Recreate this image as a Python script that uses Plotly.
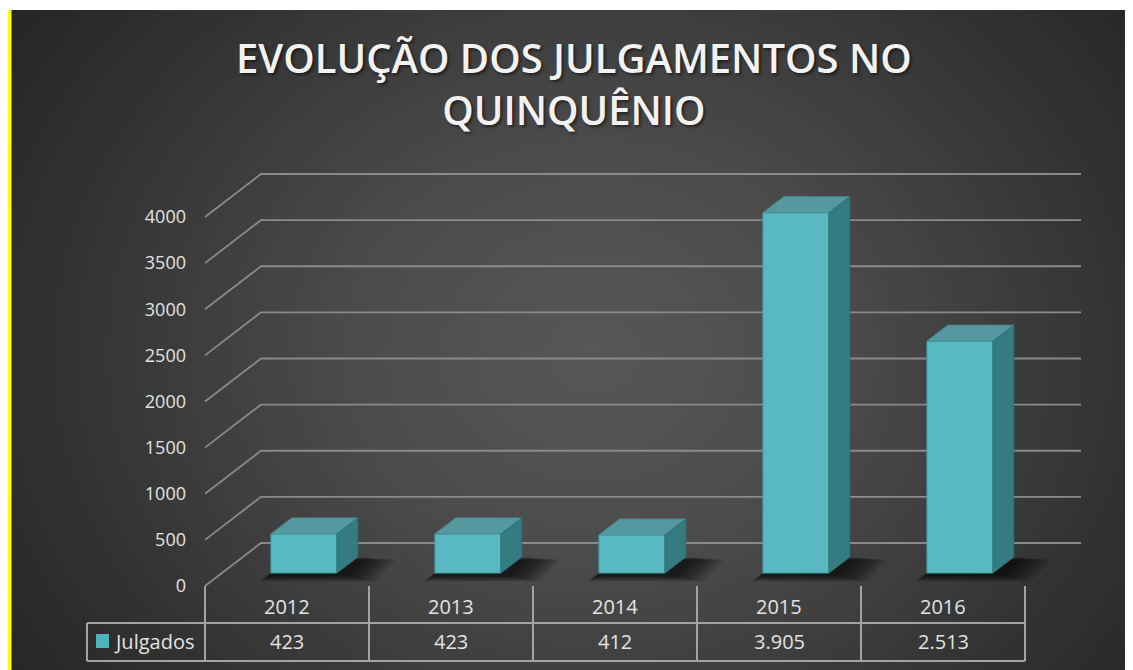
import base64
import plotly.graph_objects as go

# ---------------- data ----------------
CATEGORIES = ["2012", "2013", "2014", "2015", "2016"]
VALUES = [423, 423, 412, 3905, 2513]
SERIES_NAME = "Julgados"
TICKS = [0, 500, 1000, 1500, 2000, 2500, 3000, 3500, 4000]
TITLE = "EVOLUÇÃO DOS JULGAMENTOS NO<br>QUINQUÊNIO"

# ---------------- layout geometry (pixels, page coordinates) ----------------
PAGE_W, PAGE_H = 1133, 670
OFF = 8                                          # default body margin of the html page
W, H = PAGE_W - OFF, PAGE_H - OFF
PX_L, PX_R, PX_T, PX_B = 10, 1133, 10, 670      # plot area (page px)
X0_PX, COL_PX = 205, 164                         # left edge of floor, px per category
Y0_PX, UNIT_PX = 586, 369 / 4000                 # value 0 at front, px per unit

def px2x(px):
    return -0.5 + (px - X0_PX) / COL_PX

def py2y(py):
    return (Y0_PX - py) / UNIT_PX

def xp(px):
    return (px - PX_L) / (PX_R - PX_L)

def yp(py):
    return (PX_B - py) / (PX_B - PX_T)

# oblique depth (full depth of the floor) in data units
DX = 56 / COL_PX
DY = 43 / UNIT_PX
F0, FD = 13 / 43, 16 / 43          # bar front plane and bar depth (fractions)
BAR_W = 66 / COL_PX
BASE = F0 * DY
BX = F0 * DX
TX, TY = FD * DX, FD * DY

n = len(CATEGORIES)
XS = list(range(n))

GRID_C = "#8a8a8a"
TABLE_C = "#a3a3a3"
TEXT_C = "#e3e3e3"
FONT = "Open Sans"

fig = go.Figure()

# ---- background gradient image ----
gw, gh = PX_R - PX_L, PX_B - PX_T
svg = f'''<svg xmlns="http://www.w3.org/2000/svg" width="{gw}" height="{gh}">
<defs><radialGradient id="g" gradientUnits="userSpaceOnUse" cx="{gw*0.52}" cy="{gh*0.52}" r="{gw*0.62}"
 gradientTransform="translate({gw*0.52},{gh*0.52}) scale(1,0.85) translate({-gw*0.52},{-gh*0.52})">
<stop offset="0" stop-color="#575757"/><stop offset="0.35" stop-color="#4b4b4b"/>
<stop offset="0.75" stop-color="#333333"/><stop offset="1" stop-color="#262626"/></radialGradient></defs>
<rect width="{gw}" height="{gh}" fill="url(#g)"/></svg>'''
src = "data:image/svg+xml;base64," + base64.b64encode(svg.encode()).decode()

shapes = []

def path(xs, ys):
    return "M " + " L ".join(f"{a},{b}" for a, b in zip(xs, ys)) + " Z"

# ---- oblique gridlines (left wall diagonal + back wall) ----
xl, xr = -0.5, n - 0.5
for t in TICKS:
    shapes.append(dict(type="path", xref="x", yref="y", layer="below",
                       path=f"M {xl},{t} L {xl + DX},{t + DY} L {xr + DX},{t + DY}",
                       line=dict(color=GRID_C, width=1.8)))

# ---- soft shadows on the floor ----
LAYERS = 7
for j in range(LAYERS):
    k = 1.0 - j / LAYERS          # outer (large, faint) -> inner (small)
    for x, v in zip(XS, VALUES):
        x0 = x + BX - BAR_W / 2
        x1 = x0 + BAR_W
        sx = [x0 - 0.02 - 0.05 * k, x1 + 0.03 + 0.20 * k, x1 + TX + 0.03 + 0.20 * k, x0 + TX + 0.02]
        sy = [BASE - 20 - 70 * k, BASE - 20 - 70 * k, BASE + TY - 30 * k, BASE + TY - 30 * k]
        shapes.append(dict(type="path", xref="x", yref="y", layer="below", path=path(sx, sy),
                           fillcolor="rgba(0,0,0,0.13)", line=dict(width=0)))

# ---- bar front faces ----
fig.add_trace(go.Bar(x=XS, y=VALUES, base=BASE, width=BAR_W, offset=BX - BAR_W / 2,
                     marker=dict(color="#59b9c2", line=dict(color="#3f9da6", width=1)),
                     name=SERIES_NAME, showlegend=False, hoverinfo="skip"))

# ---- bar top and side faces ----
for x, v in zip(XS, VALUES):
    x0 = x + BX - BAR_W / 2
    x1 = x0 + BAR_W
    top = BASE + v
    fig.add_trace(go.Scatter(x=[x0, x1, x1 + TX, x0 + TX, x0], y=[top, top, top + TY, top + TY, top],
                             mode="lines", fill="toself", fillcolor="#54999f",
                             line=dict(color="#4a8f95", width=1), hoverinfo="skip", showlegend=False))
    fig.add_trace(go.Scatter(x=[x1, x1 + TX, x1 + TX, x1, x1], y=[BASE, BASE + TY, top + TY, top, BASE],
                             mode="lines", fill="toself", fillcolor="#357c82",
                             line=dict(color="#2f7177", width=1), hoverinfo="skip", showlegend=False))

# ---- data table ----
y_front, y_mid, y_bot = py2y(586), py2y(623), py2y(661)
x_leg = px2x(87)
for i in range(n + 1):
    xx = -0.5 + i
    shapes.append(dict(type="line", xref="x", yref="y", x0=xx, x1=xx, y0=y_front, y1=y_bot,
                       line=dict(color=TABLE_C, width=2)))
for yy in (y_mid, y_bot):
    shapes.append(dict(type="line", xref="x", yref="y", x0=x_leg, x1=n - 0.5, y0=yy, y1=yy,
                       line=dict(color=TABLE_C, width=2)))
shapes.append(dict(type="line", xref="x", yref="y", x0=x_leg, x1=x_leg, y0=y_mid, y1=y_bot,
                   line=dict(color=TABLE_C, width=2)))
# legend key
shapes.append(dict(type="rect", xref="x", yref="y", x0=px2x(96), x1=px2x(109), y0=py2y(648), y1=py2y(634),
                   fillcolor="#4db4be", line=dict(width=0)))
# yellow strip at the left edge
shapes.append(dict(type="rect", xref="paper", yref="paper", x0=xp(8), x1=xp(11.5), y0=0, y1=1,
                   fillcolor="#ffff00", line=dict(width=0), layer="above"))

annotations = []
for x, c, v in zip(XS, CATEGORIES, VALUES):
    annotations.append(dict(x=x, y=py2y(606), xref="x", yref="y", text=c, showarrow=False,
                            font=dict(family=FONT, size=20, color=TEXT_C)))
    annotations.append(dict(x=x, y=py2y(641), xref="x", yref="y", text=f"{v:,}".replace(",", "."),
                            showarrow=False, font=dict(family=FONT, size=20, color=TEXT_C)))
annotations.append(dict(x=px2x(112), y=py2y(641), xref="x", yref="y", text=SERIES_NAME, showarrow=False,
                        xanchor="left", font=dict(family=FONT, size=20, color=TEXT_C)))
annotations.append(dict(x=xp(574), y=yp(84), xref="paper", yref="paper", text=TITLE, showarrow=False,
                        xanchor="center", yanchor="middle",
                        font=dict(family=FONT, size=40, color="#f2f2f2", weight=600,
                                  shadow="2px 2px 3px rgba(0,0,0,0.5)")))

fig.update_layout(
    width=W, height=H, autosize=False,
    margin=dict(l=PX_L - OFF, r=PAGE_W - PX_R, t=PX_T - OFF, b=PAGE_H - PX_B, pad=0),
    paper_bgcolor="white", plot_bgcolor="rgba(0,0,0,0)",
    showlegend=False,
    images=[dict(source=src, xref="paper", yref="paper", x=0, y=1, sizex=1, sizey=1,
                 xanchor="left", yanchor="top", sizing="stretch", layer="below")],
    xaxis=dict(range=[px2x(PX_L), px2x(PX_R)], visible=False, fixedrange=True),
    yaxis=dict(range=[py2y(PX_B), py2y(PX_T)], anchor="free", position=xp(X0_PX),
               tickvals=TICKS, ticktext=[str(t) for t in TICKS], showgrid=False, zeroline=False,
               showline=False, ticks="", ticklabelstandoff=19,
               tickfont=dict(family=FONT, size=18, color=TEXT_C), fixedrange=True),
    shapes=shapes, annotations=annotations,
)

fig.write_html("out.html")
